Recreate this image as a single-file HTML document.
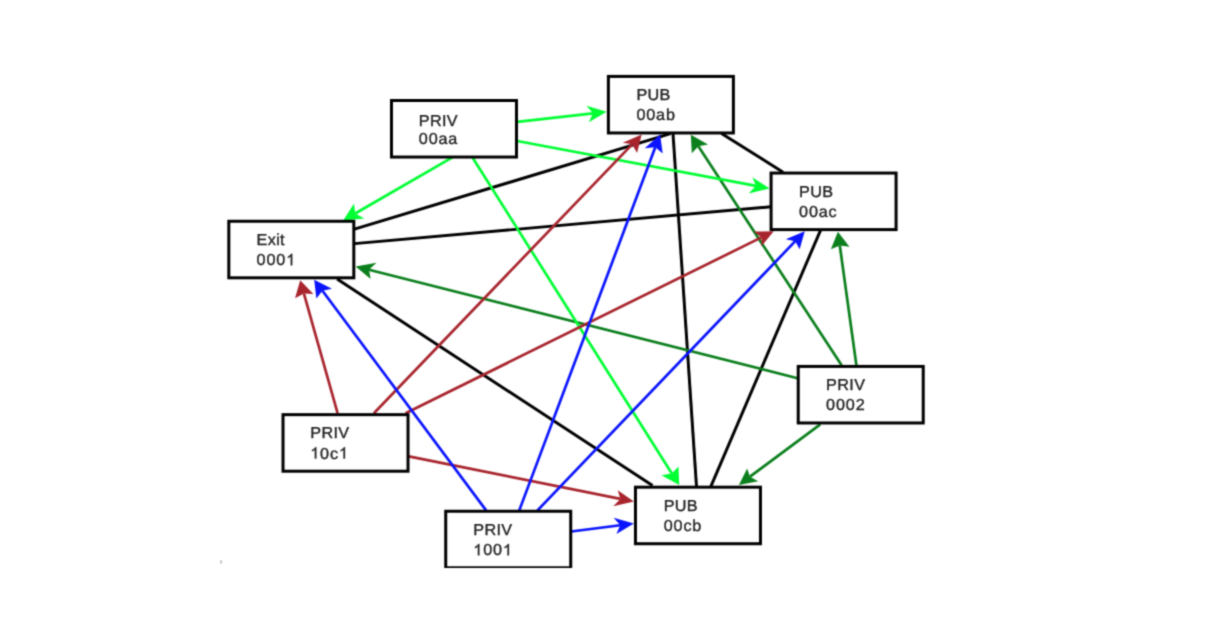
<!DOCTYPE html>
<html><head><meta charset="utf-8"><style>
html,body{margin:0;padding:0;background:#fff;width:1208px;height:625px;overflow:hidden}
svg{display:block}
text{font-family:"Liberation Sans",sans-serif;font-size:16.2px;fill:#222222;stroke:#222222;stroke-width:0.35px;font-kerning:none;text-rendering:geometricPrecision}
.h{fill-opacity:0;stroke-opacity:0}
</style></head><body>
<svg width="1208" height="625" viewBox="0 0 1208 625">
<defs><filter id="bl" x="0" y="0" width="1" height="1" color-interpolation-filters="sRGB"><feConvolveMatrix order="3" kernelMatrix="0.0361 0.1178 0.0361 0.1178 0.3846 0.1178 0.0361 0.1178 0.0361" edgeMode="duplicate" preserveAlpha="true"/></filter></defs>
<g filter="url(#bl)">
<rect width="1208" height="625" fill="#fff"/>
<g stroke-width="2.7" stroke-linecap="butt">
<line x1="354.4" y1="229.2" x2="670.5" y2="133.7" stroke="#000000" stroke-width="2.95"/>
<line x1="354.4" y1="243.6" x2="770.9" y2="206.8" stroke="#000000" stroke-width="2.95"/>
<line x1="337.1" y1="279.1" x2="652.5" y2="485.6" stroke="#000000" stroke-width="2.95"/>
<line x1="721.5" y1="133.5" x2="783.1" y2="172.2" stroke="#000000" stroke-width="2.95"/>
<line x1="673" y1="133.7" x2="696.5" y2="486.3" stroke="#000000" stroke-width="2.95"/>
<line x1="820.5" y1="230.3" x2="710.9" y2="486.3" stroke="#000000" stroke-width="2.95"/>
<line x1="797.5" y1="378.2" x2="368.98" y2="269.78" stroke="#0b7f1d"/>
<polygon points="355.6,266.4 376.49,262.8 368.98,269.78 370.66,278.88" fill="#0b7f1d"/>
<line x1="841.6" y1="365.3" x2="698.36" y2="146.35" stroke="#0b7f1d"/>
<polygon points="690.8,134.8 708.02,144.49 698.36,146.35 691.83,153.2" fill="#0b7f1d"/>
<line x1="856.4" y1="365.3" x2="839.79" y2="245.47" stroke="#0b7f1d"/>
<polygon points="837.9,231.8 830.87,249.16 839.79,245.47 849.47,246.77" fill="#0b7f1d"/>
<line x1="820.3" y1="424.4" x2="749.98" y2="476.67" stroke="#0b7f1d"/>
<polygon points="738.9,484.9 747.17,468.46 749.98,476.67 758.29,481.19" fill="#0b7f1d"/>
<line x1="517.2" y1="121.8" x2="592.99" y2="113.33" stroke="#00ff33"/>
<polygon points="606.7,111.8 586.43,105.73 592.99,113.33 588.78,122.2" fill="#00ff33"/>
<line x1="517.2" y1="141" x2="756.04" y2="185.85" stroke="#00ff33"/>
<polygon points="769.6,188.4 752.3,177.17 756.04,185.85 748.62,193.54" fill="#00ff33"/>
<line x1="452.8" y1="157.2" x2="355.15" y2="213.51" stroke="#00ff33"/>
<polygon points="343.2,220.4 354.02,203.6 355.15,213.51 364.4,218.44" fill="#00ff33"/>
<line x1="472.8" y1="158" x2="671.84" y2="473.43" stroke="#00ff33"/>
<polygon points="679.2,485.1 661.47,475.31 671.84,473.43 678.48,466.6" fill="#00ff33"/>
<line x1="337.6" y1="413.2" x2="303.94" y2="293.58" stroke="#a8252e"/>
<polygon points="300.2,280.3 295.03,298.13 303.94,293.58 313.37,293.9" fill="#a8252e"/>
<line x1="373.9" y1="413.2" x2="632.14" y2="144.35" stroke="#a8252e"/>
<polygon points="641.7,134.4 622.75,142.64 632.14,144.35 637.05,152.88" fill="#a8252e"/>
<line x1="405.6" y1="413.2" x2="761.43" y2="237.41" stroke="#a8252e"/>
<polygon points="773.8,231.3 753.5,231.51 761.43,237.41 761.42,246.36" fill="#a8252e"/>
<line x1="408.8" y1="456.4" x2="620.37" y2="498.88" stroke="#a8252e"/>
<polygon points="633.9,501.6 617.71,490.36 620.37,498.88 613.21,506.23" fill="#a8252e"/>
<line x1="486.1" y1="510.4" x2="322.45" y2="290.77" stroke="#0a14ff"/>
<polygon points="314.2,279.7 316.37,298.4 322.45,290.77 331.94,288.67" fill="#0a14ff"/>
<line x1="519.3" y1="510.4" x2="655.26" y2="147.32" stroke="#0a14ff"/>
<polygon points="660.1,134.4 644.75,148.2 655.26,147.32 662.68,153.39" fill="#0a14ff"/>
<line x1="537.5" y1="510.4" x2="795.26" y2="241.17" stroke="#0a14ff"/>
<polygon points="804.8,231.2 785.75,239.23 795.26,241.17 799.63,249.18" fill="#0a14ff"/>
<line x1="571.2" y1="531.5" x2="620.21" y2="525.25" stroke="#0a14ff"/>
<polygon points="633.9,523.5 613.62,517.84 620.21,525.25 616.39,534.11" fill="#0a14ff"/>
</g>
<g fill="#fff" stroke="#000" stroke-width="3.0">
<rect x="391.48" y="100.5" width="125" height="56.55"/>
<rect x="608.38" y="76.41" width="125" height="56.55"/>
<rect x="771.08" y="173.06" width="125" height="56.55"/>
<rect x="228.81" y="221.26" width="125" height="56.55"/>
<rect x="798.23" y="366.42" width="125" height="56.55"/>
<rect x="283.02" y="414.66" width="125" height="56.55"/>
<rect x="635.46" y="487.18" width="125" height="56.55"/>
<rect x="445.73" y="511.25" width="125" height="56.55"/>
</g>
<g>
<g transform="translate(0,2.42) scale(1,0.98)"><text x="418.8" y="126.6" style="letter-spacing:0.35px">PRIV</text></g>
<g transform="translate(0,2.76) scale(1,0.98)"><text x="418.8" y="143.67" style="letter-spacing:0.85px">00aa</text></g>
<g transform="translate(0,1.88) scale(1,0.98)"><text x="636.4" y="99.78" style="letter-spacing:0.35px">PUB</text></g>
<g transform="translate(0,2.29) scale(1,0.98)"><text x="636.4" y="120.2" style="letter-spacing:0.85px">00ab</text></g>
<g transform="translate(0,3.82) scale(1,0.98)"><text x="799.05" y="196.74" style="letter-spacing:0.35px">PUB</text></g>
<g transform="translate(0,4.24) scale(1,0.98)"><text x="799.05" y="217.34" style="letter-spacing:0.85px">00ac</text></g>
<g transform="translate(0,4.8) scale(1,0.98)"><text x="256.58" y="245.37" style="letter-spacing:0.35px">Exit</text></g>
<g transform="translate(0,5.19) scale(1,0.98)"><text x="256.58" y="265.31" style="letter-spacing:0.85px">000<tspan class="h">1</tspan></text></g>
<g transform="translate(0,7.7) scale(1,0.98)"><text x="826.1" y="390.41" style="letter-spacing:0.35px">PRIV</text></g>
<g transform="translate(0,8.08) scale(1,0.98)"><text x="826.1" y="409.78" style="letter-spacing:0.85px">0002</text></g>
<g transform="translate(0,8.65) scale(1,0.98)"><text x="310.25" y="437.86" style="letter-spacing:0.35px">PRIV</text></g>
<g transform="translate(0,9.06) scale(1,0.98)"><text x="310.25" y="458.66" style="letter-spacing:0.85px"><tspan class="h">1</tspan>0c<tspan class="h">1</tspan></text></g>
<g transform="translate(0,10.1) scale(1,0.98)"><text x="663.7" y="510.73" style="letter-spacing:0.35px">PUB</text></g>
<g transform="translate(0,10.5) scale(1,0.98)"><text x="663.7" y="530.63" style="letter-spacing:0.85px">00cb</text></g>
<g transform="translate(0,10.6) scale(1,0.98)"><text x="473.3" y="535.41" style="letter-spacing:0.35px">PRIV</text></g>
<g transform="translate(0,11) scale(1,0.98)"><text x="473.3" y="555.46" style="letter-spacing:0.85px"><tspan class="h">1</tspan>00<tspan class="h">1</tspan></text></g>
</g>
<g fill="#222222" stroke="#222222" stroke-width="44.25">
<path transform="translate(0,5.19) scale(1,0.98) translate(286.16,265.31) scale(0.007910,-0.007910)" d="M763 0L583 0L583 1147C540 1106 483 1065 413 1024C343 983 280 952 224 931L224 1105C325 1152 413 1210 488 1277C563 1344 616 1409 647 1472L763 1472Z"/>
<path transform="translate(0,9.06) scale(1,0.98) translate(310.25,458.66) scale(0.007910,-0.007910)" d="M763 0L583 0L583 1147C540 1106 483 1065 413 1024C343 983 280 952 224 931L224 1105C325 1152 413 1210 488 1277C563 1344 616 1409 647 1472L763 1472Z"/>
<path transform="translate(0,9.06) scale(1,0.98) translate(338.92,458.66) scale(0.007910,-0.007910)" d="M763 0L583 0L583 1147C540 1106 483 1065 413 1024C343 983 280 952 224 931L224 1105C325 1152 413 1210 488 1277C563 1344 616 1409 647 1472L763 1472Z"/>
<path transform="translate(0,11) scale(1,0.98) translate(473.3,555.46) scale(0.007910,-0.007910)" d="M763 0L583 0L583 1147C540 1106 483 1065 413 1024C343 983 280 952 224 931L224 1105C325 1152 413 1210 488 1277C563 1344 616 1409 647 1472L763 1472Z"/>
<path transform="translate(0,11) scale(1,0.98) translate(502.88,555.46) scale(0.007910,-0.007910)" d="M763 0L583 0L583 1147C540 1106 483 1065 413 1024C343 983 280 952 224 931L224 1105C325 1152 413 1210 488 1277C563 1344 616 1409 647 1472L763 1472Z"/>
</g>
<rect x="0" y="568" width="1208" height="57" fill="#fff"/>
<rect x="220.5" y="560.5" width="1.2" height="3" fill="#999"/>
</g>
</svg>
</body></html>
